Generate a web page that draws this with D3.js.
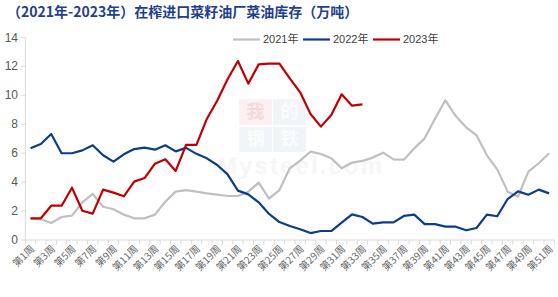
<!DOCTYPE html>
<html><head><meta charset="utf-8">
<script src="https://cdn.jsdelivr.net/npm/d3@7"></script>
<style>
body{margin:0;background:#fff;}
svg{display:block;font-family:"Liberation Sans","Noto Sans CJK SC",sans-serif;}
</style></head>
<body><svg id="c" width="558" height="297"></svg>
<script>
const weeks = d3.range(1, 52).map(i => "第" + i + "周");
const yTicks = [0, 2, 4, 6, 8, 10, 12, 14];
const seriesNames = ["2021年", "2022年", "2023年"];
const colors = ["#BFBFBF", "#0B3D8C", "#C00000"];
const v2021 = [1.50,1.43,1.17,1.59,1.68,2.60,3.18,2.30,2.12,1.75,1.50,1.50,1.75,2.65,3.34,3.45,3.34,3.22,3.13,3.04,3.04,3.34,3.96,2.86,3.45,4.95,5.48,6.10,5.94,5.64,4.95,5.34,5.46,5.69,6.03,5.57,5.55,6.33,7.02,8.38,9.65,8.56,7.78,7.23,5.85,4.88,3.34,2.99,4.72,5.30,5.99];
const v2022 = [6.33,6.63,7.32,5.99,5.99,6.19,6.54,5.85,5.41,5.92,6.28,6.38,6.24,6.54,6.12,6.36,5.95,5.64,5.18,4.53,3.41,3.15,2.60,1.80,1.24,0.97,0.74,0.48,0.62,0.62,1.20,1.77,1.59,1.13,1.22,1.22,1.66,1.75,1.10,1.10,0.92,0.92,0.67,0.83,1.75,1.64,2.83,3.36,3.13,3.48,3.22];
const v2023 = [1.50,1.50,2.37,2.37,3.61,2.02,1.82,3.48,3.27,3.02,4.03,4.28,5.27,5.57,4.77,6.57,6.57,8.36,9.62,11.10,12.36,10.80,12.13,12.18,12.18,11.17,10.20,8.70,7.83,8.63,10.06,9.28,9.37];
const allSeries = [v2021, v2022, v2023];

const svg = d3.select("#c");
const x = d3.scaleBand().domain(weeks).range([25.3, 554.3]).paddingInner(0).paddingOuter(0);
const bw = x.bandwidth();
const cx = d => x(d) + bw / 2;
const y = d3.scaleLinear().domain([0, 14]).range([240, 37.3]);

// watermark (very faint)
const wm = svg.append("g");
wm.append("rect").attr("x", 239).attr("y", 99).attr("width", 33).attr("height", 26).attr("fill", "#fcf1f2");
wm.append("rect").attr("x", 273).attr("y", 99).attr("width", 33).attr("height", 26).attr("fill", "#f1f4f9");
wm.append("rect").attr("x", 239).attr("y", 127).attr("width", 33).attr("height", 25).attr("fill", "#f1f4f9");
wm.append("rect").attr("x", 273).attr("y", 127).attr("width", 33).attr("height", 25).attr("fill", "#f1f4f9");
[["我",255.5,111.5,"#f6d8da"],["的",289.5,111.5,"#fbfcfe"],["钢",255.5,138.5,"#fbfcfe"],["铁",289.5,138.5,"#fbfcfe"]].forEach(t=>{
  wm.append("text").attr("x",t[1]).attr("y",t[2]).attr("dy","0.36em").attr("text-anchor","middle")
    .attr("font-family","Noto Sans CJK SC").attr("font-weight","bold").attr("font-size",18).attr("fill",t[3]).text(t[0]);
});
wm.append("text").attr("x", 217).attr("y", 174).attr("font-family","Liberation Sans").attr("font-weight","bold")
  .attr("font-size", 24).attr("fill", "#f6f6f6").attr("textLength", 165).text("Mysteel.com");

// y axis
svg.append("line").attr("x1", 25.3).attr("x2", 25.3).attr("y1", y(14)).attr("y2", y(0)).attr("stroke", "#d9d9d9");
yTicks.forEach(t => {
  svg.append("line").attr("x1", 21).attr("x2", 25.3).attr("y1", y(t)).attr("y2", y(t)).attr("stroke", "#d9d9d9");
  svg.append("text").attr("x", 18).attr("y", y(t)).attr("dy", "0.35em").attr("text-anchor", "end")
    .attr("font-size", 12).attr("fill", "#595959").text(t);
});
// x axis
svg.append("line").attr("x1", 25.3).attr("x2", 554.3).attr("y1", 240).attr("y2", 240).attr("stroke", "#d9d9d9");
weeks.forEach((w, i) => {
  svg.append("line").attr("x1", x(w)).attr("x2", x(w)).attr("y1", 240).attr("y2", 244.5).attr("stroke", "#d9d9d9");
  if (i === weeks.length - 1) svg.append("line").attr("x1", x(w)+bw).attr("x2", x(w)+bw).attr("y1", 240).attr("y2", 244.5).attr("stroke", "#d9d9d9");
  if (i % 2 === 0) {
    svg.append("text").attr("transform", `translate(${cx(w)+2},${247}) rotate(-45)`)
      .attr("text-anchor", "end").attr("dy", "0.35em").attr("font-size", 10).attr("fill", "#666")
      .attr("font-family", "Noto Sans CJK SC").text(w);
  }
});

// lines
const line = d3.line().x((d, i) => cx(weeks[i])).y(d => y(d));
allSeries.forEach((s, k) => {
  svg.append("path").datum(s).attr("d", line).attr("fill", "none").attr("stroke", colors[k])
    .attr("stroke-width", 2.2).attr("stroke-linejoin", "round");
});

// legend
const lx = [233, 303, 373];
seriesNames.forEach((n, k) => {
  svg.append("line").attr("x1", lx[k]).attr("x2", lx[k] + 27).attr("y1", 39.5).attr("y2", 39.5)
    .attr("stroke", colors[k]).attr("stroke-width", 2.2);
  svg.append("text").attr("x", lx[k] + 30).attr("y", 39.5).attr("dy", "0.35em").attr("font-size", 11)
    .attr("fill", "#404040").text(n);
});

// title
svg.append("text").attr("x", 7).attr("y", 12).attr("dy", "0.35em").attr("font-family", "Noto Sans CJK SC")
  .attr("font-weight", "bold").attr("font-size", 14).attr("fill", "#1F3F8F")
  .text("（2021年-2023年）在榨进口菜籽油厂菜油库存（万吨）");
</script></body></html>
